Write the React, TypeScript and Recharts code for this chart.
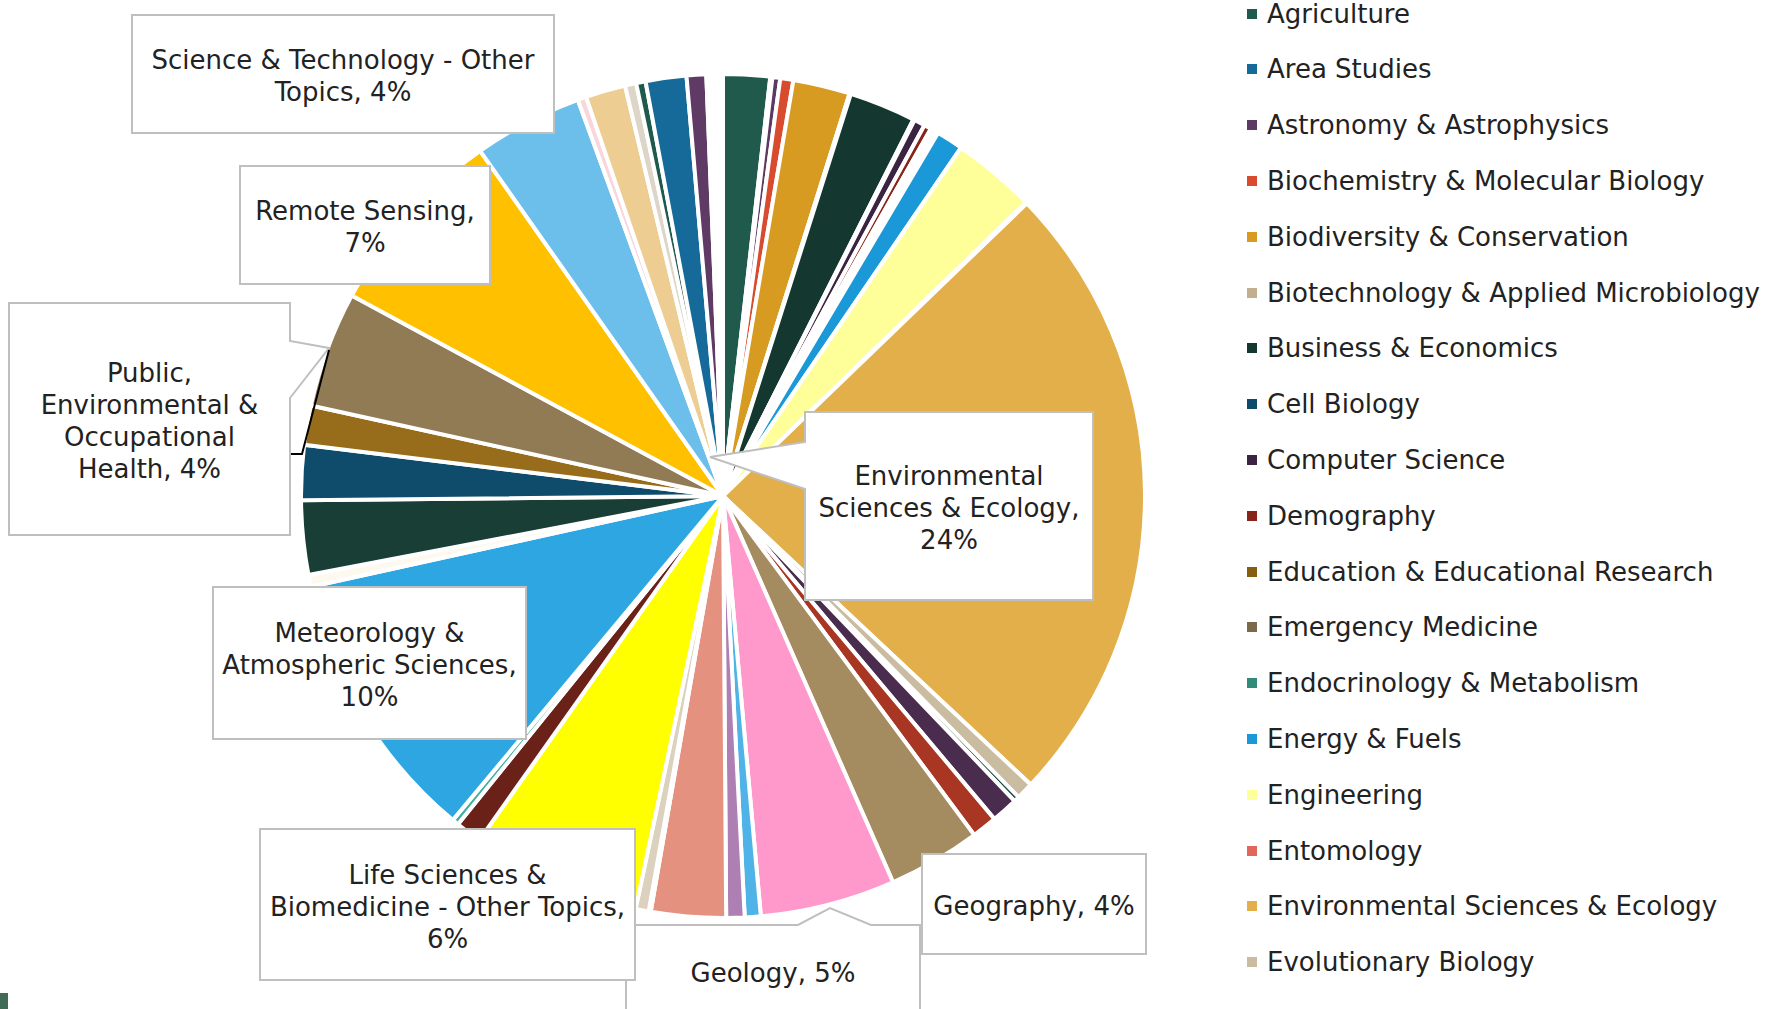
import { PieChart, Pie, Cell } from 'recharts'

// research areas, in the order the pie walks them (clockwise from 12 o'clock)
const categories = [
  'Agriculture',
  'Area Studies',
  'Astronomy & Astrophysics',
  'Biochemistry & Molecular Biology',
  'Biodiversity & Conservation',
  'Biotechnology & Applied Microbiology',
  'Business & Economics',
  'Cell Biology',
  'Computer Science',
  'Demography',
  'Education & Educational Research',
  'Emergency Medicine',
  'Endocrinology & Metabolism',
  'Energy & Fuels',
  'Engineering',
  'Entomology',
  'Environmental Sciences & Ecology',
  'Evolutionary Biology',
  'Fisheries',
  'Forestry',
  'Geochemistry & Geophysics',
  'Geography',
  'Geology',
  'Government & Law',
  'Health Care Sciences & Services',
  'Imaging Science & Photographic Technology',
  'Infectious Diseases',
  'Instruments & Instrumentation',
  'Life Sciences & Biomedicine - Other Topics',
  'Marine & Freshwater Biology',
  'Mathematical & Computational Biology',
  'Meteorology & Atmospheric Sciences',
  'Mining & Mineral Processing',
  'Oceanography',
  'Physical Geography',
  'Plant Sciences',
  'Public, Environmental & Occupational Health',
  'Remote Sensing',
  'Science & Technology - Other Topics',
  'Social Sciences - Other Topics',
  'Toxicology',
  'Transportation',
  'Tropical Medicine',
  'Urban Studies',
  'Water Resources',
  'Zoology',
  'Other',
]

// share of records, percent
const shares = [
  1.79, 0.08, 0.3, 0.5, 2.18, 0.05, 2.55, 0.05, 0.42, 0.28,
  0.1, 0.1, 0.11, 1.03, 3.21, 0.05, 24.19, 0.66, 0.21, 1.02,
  0.97, 3.55, 5.17, 0.61, 0.7, 2.86, 0.08, 0.5, 6.49, 1.0,
  0.25, 10.49, 0.45, 2.84, 2.1, 1.5, 4.44, 7.36, 4.17, 0.33,
  1.53, 0.43, 0.36, 1.56, 0.75, 0.12, 0.51,
]

const sliceColors = [
  '#1F5A4D', '#166A9A', '#5C3A63', '#D84B2E', '#D89B22', '#C2AF8F', '#14382F', '#0E4A6A', '#3B2441', '#87251A',
  '#875D11', '#7B6A4A', '#2E8C79', '#1B98D8', '#FFFF99', '#E0685A', '#E3AF4A', '#CABCA0', '#1A4A3E', '#4A2C4E',
  '#A93523', '#A58C60', '#FF99CC', '#4FB3E8', '#AE7FB2', '#E5917F', '#F5B041', '#DBD1BC', '#FFFF00', '#6A2118',
  '#40B0A0', '#2EA6E2', '#FDF9EE', '#183E35', '#0F4C6B', '#976C1A', '#917B55', '#FFC000', '#6CBEEB', '#F9D6DC',
  '#EDCD92', '#DDD5C8', '#1F5B4D', '#166A9A', '#5E3A64', '#E06B5A', '#FFFFFF',
]

const legendCount = 18

const data = categories.map((name, i) => ({ name, value: shares[i] }))

const FONT = '"DejaVu Sans", sans-serif'
const TEXT = '#222222'

type Callout = {
  box: [number, number, number, number]
  breaks: number[]
  outline?: [number, number][]
  leader?: [number, number][]
}

// data-label callouts, placed like the original chart
const callouts: Record<string, Callout> = {
  'Science & Technology - Other Topics': { box: [132, 15, 422, 118], breaks: [5, 2] },
  'Remote Sensing': { box: [240, 166, 250, 118], breaks: [2, 1] },
  'Public, Environmental & Occupational Health': {
    box: [9, 303, 281, 232],
    breaks: [1, 2, 1, 2],
    outline: [[9, 303], [290, 303], [290, 341], [329, 348], [290, 398], [290, 535], [9, 535]],
    leader: [[329, 350], [302, 454], [291, 454]],
  },
  'Environmental Sciences & Ecology': {
    box: [805, 412, 288, 188],
    breaks: [1, 3, 1],
    outline: [[805, 412], [1093, 412], [1093, 600], [805, 600], [805, 489], [710, 457], [805, 442]],
  },
  'Meteorology & Atmospheric Sciences': { box: [213, 587, 313, 152], breaks: [2, 2, 1] },
  'Life Sciences & Biomedicine - Other Topics': { box: [260, 829, 375, 151], breaks: [3, 4, 1] },
  'Geography': { box: [922, 854, 224, 100], breaks: [2] },
  'Geology': {
    box: [626, 925, 294, 92],
    breaks: [2],
    outline: [[626, 925], [798, 925], [830, 908], [871, 925], [920, 925], [920, 1017], [626, 1017]],
  },
}

function renderCallout(props: any) {
  const c = callouts[props.name]
  if (!c) return null
  const [x, y, w, h] = c.box
  const words = `${props.name}, ${Math.round(props.percent * 100)}%`.split(' ')
  const lines: string[] = []
  let k = 0
  c.breaks.forEach(n => {
    lines.push(words.slice(k, k + n).join(' '))
    k += n
  })
  const pts = c.outline ?? [[x, y], [x + w, y], [x + w, y + h], [x, y + h]]
  const lh = 32
  const top = y + h / 2 + 2 - ((lines.length - 1) * lh) / 2
  return (
    <g key={props.name}>
      <polygon points={pts.map(p => p.join(',')).join(' ')} fill="#fff" stroke="#BFBFBF" strokeWidth={2} />
      {c.leader && <polyline points={c.leader.map(p => p.join(',')).join(' ')} fill="none" stroke="#000" strokeWidth={2} />}
      {lines.map((t, i) => (
        <text key={i} x={x + w / 2} y={top + i * lh} textAnchor="middle" dominantBaseline="central"
          fontFamily={FONT} fontSize={26} fill={TEXT}>
          {t}
        </text>
      ))}
    </g>
  )
}

export default function App() {
  return (
    <div style={{ position: 'absolute', left: 0, top: 0, width: 1770, height: 1009, background: '#fff', overflow: 'hidden' }}>
      <PieChart width={1770} height={1009} margin={{ top: 0, right: 0, bottom: 0, left: 0 }}>
        <Pie
          data={data}
          dataKey="value"
          nameKey="name"
          cx={723}
          cy={496}
          outerRadius={422}
          startAngle={90}
          endAngle={-270}
          stroke="#fff"
          strokeWidth={4}
          label={renderCallout}
          labelLine={false}
          isAnimationActive={false}
        >
          {data.map((d, i) => (
            <Cell key={d.name} fill={sliceColors[i]} />
          ))}
        </Pie>
      </PieChart>
      <div style={{ position: 'absolute', left: 1247, top: 0, fontFamily: FONT, fontSize: 26, color: TEXT }}>
        {categories.slice(0, legendCount).map((name, i) => (
          <div key={name} style={{ position: 'absolute', top: 13.5 + i * 55.8 - 20, height: 40, display: 'flex', alignItems: 'center', whiteSpace: 'nowrap' }}>
            <span style={{ width: 10, height: 10, background: sliceColors[i], marginRight: 10, flexShrink: 0 }} />
            <span>{name}</span>
          </div>
        ))}
      </div>
      <div style={{ position: 'absolute', left: 0, top: 993, width: 8, height: 16, background: '#3F6B57' }} />
    </div>
  )
}
